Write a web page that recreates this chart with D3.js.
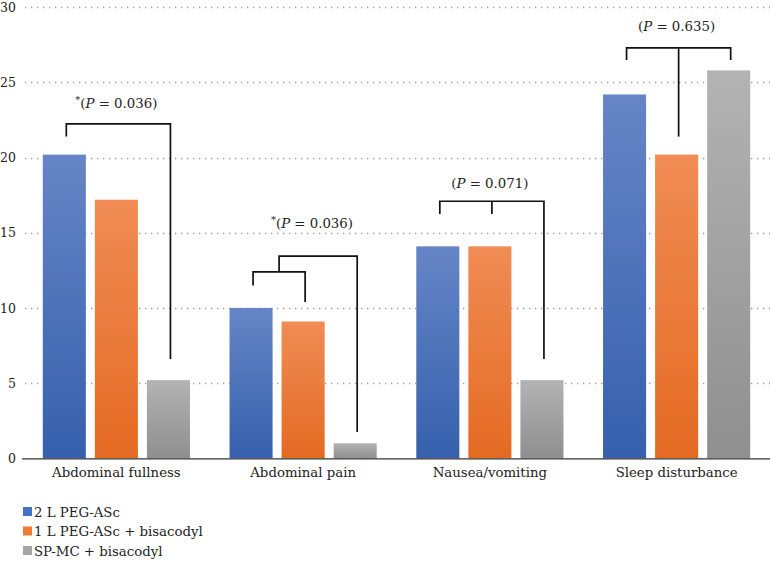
<!DOCTYPE html>
<html>
<head>
<meta charset="utf-8">
<script src="https://cdn.jsdelivr.net/npm/d3@7"></script>
<style>
  html, body { margin: 0; padding: 0; background: #ffffff; }
  svg { display: block; }
  svg text { font-family: "DejaVu Serif", serif !important; }
</style>
</head>
<body>
<div id="chart"></div>
<script>
// ---- data ----
const categories = ["Abdominal fullness", "Abdominal pain", "Nausea/vomiting", "Sleep disturbance"];
const seriesNames = ["2 L PEG-ASc", "1 L PEG-ASc + bisacodyl", "SP-MC + bisacodyl"];
const peg2Values = [20.2, 10.0, 14.1, 24.2];
const peg1Values = [17.2, 9.1, 14.1, 20.2];
const spmcValues = [5.2, 1.0, 5.2, 25.8];
const yTicks = [0, 5, 10, 15, 20, 25, 30];
// significance annotations: [category index, series position, value]
const pLabels = [
  { cat: 0, pos: 1, y: 23.3, star: true, p: "0.036" },
  { cat: 1, pos: 1.17, y: 15.3, star: true, p: "0.036" },
  { cat: 2, pos: 1, y: 18.0, star: false, p: "0.071" },
  { cat: 3, pos: 1, y: 28.4, star: false, p: "0.635" }
];
const brackets = [
  [[0, 0, 21.4], [0, 0, 22.25], [0, 2, 22.25], [0, 2, 6.6]],
  [[1, 0, 11.5], [1, 0, 12.4], [1, 1, 12.4], [1, 1, 10.4]],
  [[1, 0.5, 12.4], [1, 0.5, 13.45], [1, 2, 13.45], [1, 2, 1.75]],
  [[2, 0, 16.25], [2, 0, 17.1], [2, 2, 17.1], [2, 2, 6.6]],
  [[2, 1, 17.1], [2, 1, 16.25]],
  [[3, 0, 26.5], [3, 0, 27.3], [3, 2, 27.3], [3, 2, 26.5]],
  [[3, 1, 27.3], [3, 1, 21.4]]
];

const seriesValues = [peg2Values, peg1Values, spmcValues];
const gradStops = [
  ["#6685c6", "#3660ad"],
  ["#f08c55", "#e46a22"],
  ["#b3b3b3", "#8f8f8f"]
];
const legendColors = ["#4472c4", "#ed7d31", "#a5a5a5"];

const W = 770, H = 576;
const FS = 13.3;
const svg = d3.select("#chart").append("svg").attr("width", W).attr("height", H);

const x0 = d3.scaleBand().domain(d3.range(categories.length)).range([23, 770]).padding(0);
const x1 = d3.scaleBand().domain(d3.range(seriesNames.length)).range([0, x0.bandwidth()])
  .paddingInner(0.173).paddingOuter(0.38);
const y = d3.scaleLinear().domain([0, 30]).range([458.3, 7.3]);

// gradients
const defs = svg.append("defs");
gradStops.forEach((s, i) => {
  const g = defs.append("linearGradient").attr("id", "g" + i)
    .attr("x1", 0).attr("y1", 0).attr("x2", 0).attr("y2", 1);
  g.append("stop").attr("offset", "0%").attr("stop-color", s[0]);
  g.append("stop").attr("offset", "100%").attr("stop-color", s[1]);
});

// gridlines
svg.append("g").selectAll("line").data(yTicks.filter(d => d > 0)).join("line")
  .attr("x1", 25).attr("x2", 770)
  .attr("y1", d => Math.round(y(d)) + 0.5).attr("y2", d => Math.round(y(d)) + 0.5)
  .attr("stroke", "#9a9a9a").attr("stroke-width", 1.3)
  .attr("stroke-dasharray", "1.3,4.7");

// y axis labels (via d3 axis, no domain line)
const yAxis = svg.append("g").attr("transform", "translate(16,0)")
  .call(d3.axisLeft(y).tickValues(yTicks).tickSize(0).tickPadding(0));
yAxis.select(".domain").remove();
yAxis.selectAll("text").attr("font-size", 12.5).attr("fill", "#222").attr("dy", "0.33em");

// bars
const groups = svg.append("g").selectAll("g").data(categories).join("g")
  .attr("transform", (d, i) => `translate(${x0(i)},0)`);
groups.selectAll("rect")
  .data((d, i) => seriesValues.map((vals, s) => ({ s, v: vals[i] })))
  .join("rect")
  .attr("x", d => x1(d.s))
  .attr("width", x1.bandwidth())
  .attr("y", d => y(d.v))
  .attr("height", d => y(0) - y(d.v))
  .attr("fill", d => `url(#g${d.s})`);

// x axis baseline + labels
const xAxis = svg.append("g").attr("transform", `translate(0,${y(0)})`)
  .call(d3.axisBottom(x0).tickSize(0).tickPadding(9).tickFormat(i => categories[i]));
xAxis.select(".domain").attr("stroke", "#333").attr("stroke-width", 1.3)
  .attr("d", "M22,0.5H770");
xAxis.selectAll("text").attr("font-size", FS).attr("fill", "#222");

// brackets
const px = (c, pos) => x0(c) + x1(0) + x1.bandwidth() / 2 + pos * x1.step() + 2;
const line = d3.line().x(p => px(p[0], p[1])).y(p => y(p[2]));
svg.append("g").selectAll("path").data(brackets).join("path")
  .attr("d", line).attr("fill", "none").attr("stroke", "#111").attr("stroke-width", 1.7);

// p labels
const pl = svg.append("g").selectAll("text").data(pLabels).join("text")
  .attr("x", d => px(d.cat, d.pos) - 2)
  .attr("y", d => y(d.y))
  .attr("text-anchor", "middle")
  .attr("font-size", FS).attr("fill", "#222");
pl.each(function (d) {
  const t = d3.select(this);
  if (d.star) t.append("tspan").attr("font-size", 10).attr("dy", -5).text("*");
  t.append("tspan").attr("dy", d.star ? 5 : 0).text("(");
  t.append("tspan").attr("font-style", "italic").text("P");
  t.append("tspan").text(" = " + d.p + ")");
});

// legend
const lg = svg.append("g").selectAll("g").data(seriesNames).join("g")
  .attr("transform", (d, i) => `translate(23,${507 + i * 19.5})`);
lg.append("rect").attr("width", 9).attr("height", 9).attr("fill", (d, i) => legendColors[i]);
lg.append("text").attr("x", 11).attr("y", 9.5).attr("font-size", FS).attr("fill", "#222").text(d => d);
</script>
</body>
</html>
